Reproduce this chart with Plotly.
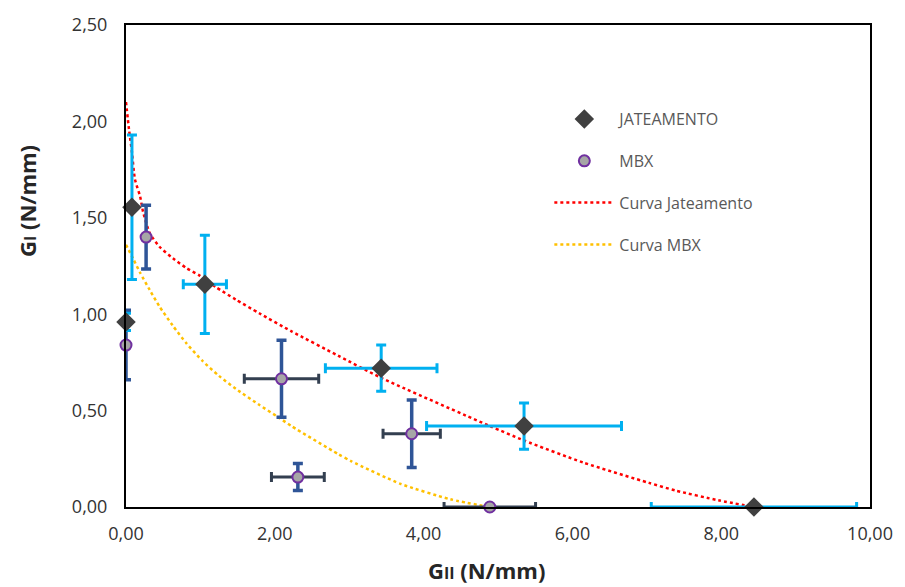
import plotly.graph_objects as go

# JATEAMENTO data
jat_x = [0.00, 0.08, 1.06, 3.43, 5.35, 8.44]
jat_y = [0.96, 1.555, 1.155, 0.72, 0.42, 0.00]
jat_ex = [0.00, 0.00, 0.29, 0.75, 1.31, 1.38]
jat_ey = [0.045, 0.375, 0.255, 0.12, 0.12, 0.00]

# MBX data
mbx_x = [0.00, 0.27, 2.09, 2.31, 3.84, 4.89]
mbx_y = [0.84, 1.40, 0.665, 0.155, 0.38, 0.00]
mbx_ex = [0.00, 0.00, 0.50, 0.355, 0.385, 0.615]
mbx_ey = [0.18, 0.165, 0.20, 0.07, 0.175, 0.00]

# Curva Jateamento
cj_x = [0.00, 0.04, 0.08, 0.12, 0.19, 0.23, 0.32, 0.45, 0.63, 0.81, 0.99, 1.21, 1.48, 1.79,
        2.23, 2.85, 3.43, 4.89, 5.35, 6.15, 7.03, 7.39, 7.96, 8.44]
cj_y = [2.10, 1.96, 1.84, 1.70, 1.61, 1.53, 1.42, 1.35, 1.29, 1.24, 1.20, 1.14, 1.075, 1.005,
        0.91, 0.785, 0.67, 0.42, 0.345, 0.23, 0.125, 0.085, 0.035, 0.00]

# Curva MBX
cm_x = [0.00, 0.10, 0.19, 0.32, 0.45, 0.63, 0.81, 1.03, 1.25, 1.48, 1.79, 2.05, 2.23,
        2.85, 3.03, 3.69, 4.36, 4.89]
cm_y = [1.36, 1.285, 1.215, 1.125, 1.04, 0.94, 0.85, 0.757, 0.68, 0.612, 0.53, 0.465, 0.418,
        0.275, 0.237, 0.12, 0.04, 0.00]

x_ticks = [0, 2, 4, 6, 8, 10]
y_ticks = [0, 0.5, 1.0, 1.5, 2.0, 2.5]

fig = go.Figure()

fig.add_trace(go.Scatter(
    x=cj_x, y=cj_y, mode="lines", name="Curva Jateamento",
    line=dict(color="#FF0000", width=2.5, dash="dot", shape="spline", smoothing=0.6),
    legendgroup="c", legendrank=3, cliponaxis=False))
fig.add_trace(go.Scatter(
    x=cm_x, y=cm_y, mode="lines", name="Curva MBX",
    line=dict(color="#FFC000", width=2.5, dash="dot", shape="spline", smoothing=0.6),
    legendgroup="d", legendrank=4, cliponaxis=False))

fig.add_trace(go.Scatter(
    x=mbx_x, y=mbx_y, mode="markers", name="MBX",
    marker=dict(symbol="circle", size=11, color="#A6A6A6",
                line=dict(color="#7030A0", width=2)),
    error_x=dict(type="data", array=mbx_ex, color="#333F50", thickness=3, width=5),
    error_y=dict(type="data", array=mbx_ey, color="#2F5597", thickness=3.5, width=5),
    legendgroup="b", legendrank=2, cliponaxis=False))

fig.add_trace(go.Scatter(
    x=jat_x, y=jat_y, mode="markers", name="JATEAMENTO",
    marker=dict(symbol="diamond", size=15, color="#404040",
                line=dict(color="#404040", width=0)),
    error_x=dict(type="data", array=jat_ex, color="#00B0F0", thickness=3, width=5),
    error_y=dict(type="data", array=jat_ey, color="#00B0F0", thickness=3, width=5),
    legendgroup="a", legendrank=1, cliponaxis=False))

fig.update_layout(
    width=905, height=587,
    margin=dict(l=126, r=29, t=22, b=80),
    paper_bgcolor="white", plot_bgcolor="white",
    separators=",.",
    font=dict(family="Open Sans", size=18, color="#333333"),
    showlegend=True,
    legend=dict(
        x=0.569, y=0.84, xanchor="left", yanchor="top",
        font=dict(family="Open Sans", size=16, color="#595959"),
        traceorder="grouped", tracegroupgap=18,
        itemwidth=60, bgcolor="rgba(0,0,0,0)"),
    xaxis=dict(
        range=[0, 10], tickvals=x_ticks, tickformat=".2f",
        showgrid=False, zeroline=False, showline=True, mirror=True,
        linecolor="black", linewidth=2, ticks="", ticklabelstandoff=9),
    yaxis=dict(
        range=[0, 2.5], tickvals=y_ticks, tickformat=".2f",
        showgrid=False, zeroline=False, showline=True, mirror=True,
        linecolor="black", linewidth=2, ticks="", ticklabelstandoff=13),
    annotations=[
        dict(text="<b>G<span style='font-size:16px'>II</span> (N/mm)</b>",
             xref="paper", yref="paper", x=0.485, y=-0.131,
             xanchor="center", yanchor="middle", showarrow=False,
             font=dict(family="Open Sans", size=22, color="#262626")),
        dict(text="<b>G<span style='font-size:16px'>I</span> (N/mm)</b>",
             xref="paper", yref="paper", x=-0.133, y=0.635, textangle=-90,
             xanchor="center", yanchor="middle", showarrow=False,
             font=dict(family="Open Sans", size=22, color="#262626")),
    ],
)

fig.write_html("out.html")
